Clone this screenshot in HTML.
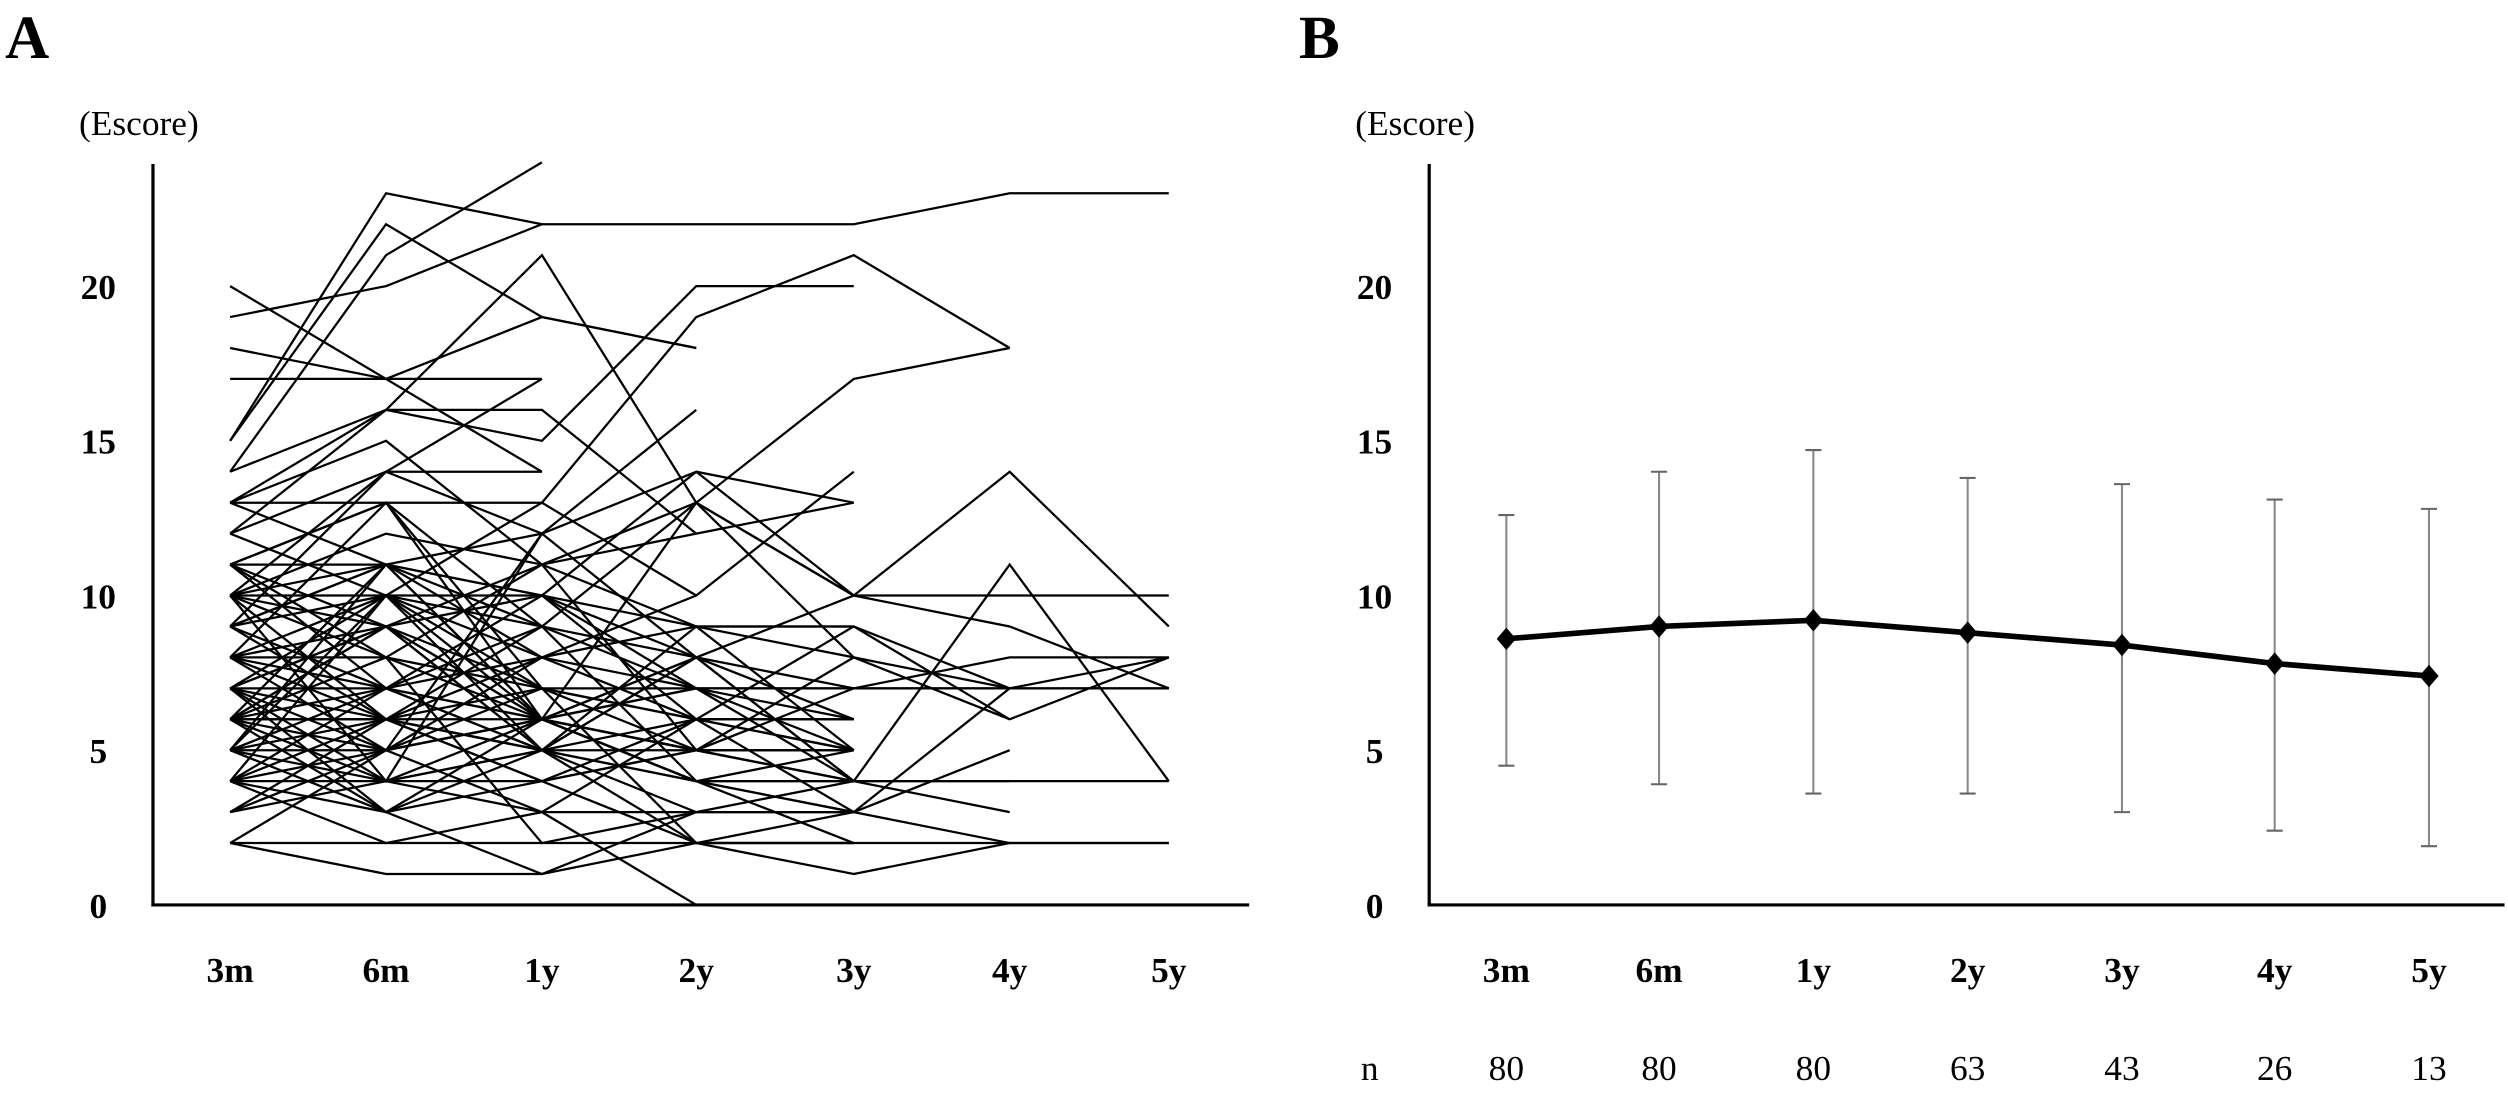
<!DOCTYPE html>
<html><head><meta charset="utf-8"><style>
html,body{margin:0;padding:0;background:#fff;}
svg{display:block;}
text{font-family:"Liberation Serif",serif;}
</style></head><body>
<svg id="chart" width="2508" height="1093" viewBox="0 0 1560 680" xmlns="http://www.w3.org/2000/svg">
<rect width="1560" height="680" fill="#fff"/>
<g id="A"></g>
<g id="B"></g>
</svg>
<script>
const categories = ["3m","6m","1y","2y","3y","4y","5y"];
const yTicks = [0,5,10,15,20];
const nCounts = [80,80,80,63,43,26,13];
const meanValues = [8.6,9.0,9.2,8.8,8.4,7.8,7.4];
const sdUpper = [12.6,14.0,14.7,13.8,13.6,13.1,12.8];
const sdLower = [4.5,3.9,3.6,3.6,3.0,2.4,1.9];
const subjects = [
[19,20,22,22,22,23,23],[15,23,22],[14,21,24],[20,17,14],[18,17,19,18],[17,17,17],
[15,22,19,18],[14,16,21,13,10,14,9],[13,16,15,20,20],[12,16,16,12,13],[10,14,14],
[11,13,13,19,21,18],[13,15,11,13,17,18],[11,11,12,14,10,10,10],[10,10,10,8,7,8,8],
[10,8,6,13,10,9,7],[9,11,10,7,7,7,7],[8,10,6,4,4,4,4],[7,6,9,4,4,11,4],[6,6,5,9,9,6,8],
[2,2,2,2,2,2,2],[2,1,1,2,1,2,2],[4,2,3,0],[6,3,1,3,4,3],[8,5,3,3,3],[5,4,3,6,6],
[7,9,5,5,8,6],[9,11,8,6,3,5],[4,6,8,10,14],[3,5,12,16],[5,7,10,14,13],[6,9,11,5,5],
[7,5,6,7,4],[8,6,4,5,7,7],[10,12,11,9,5],[11,9,5,4,3],[12,14,12,8,10],[5,10,7,2,3,7,8],
[4,7,9,13,8,7,7],[6,11,10,9,9,7],[9,7,6,8,4,4],[3,6,5,8,4],[7,10,13,10],[5,3,6,8],
[8,13,6],[10,4,12],[4,4,4,5],[6,8,2,3],[11,7,8],[13,13,9],[9,14,17],[6,4,5],
[7,9,10,6],[5,11,6,4],[4,10,5],[8,8,11,12],[2,5,7],[10,6,6],[11,13,7,7],[7,3,5,3,3,2],
[6,5,6,5,5],[5,6,4,6,5],[7,7,6,4,3],[4,5,6,5,4],[6,6,7,5,4],[9,6,5,6,6],[3,4,6,4,2],
[8,9,7,6,5],[10,9,6,5,4],[7,4,5,4,5],[6,7,5,8,6],[5,5,8,7,7],[11,8,7,6,9],[4,3,4,2,2],
[9,10,9,7,6],[12,10,8,9,8],[6,9,6,7,5],[8,7,5,2,2],[13,11,9,8],[10,11,6,5]
];
const NS="http://www.w3.org/2000/svg";
function mk(parent,tag,attrs,txt){const e=document.createElementNS(NS,tag);for(const k in attrs)e.setAttribute(k,attrs[k]);if(txt!==undefined)e.textContent=txt;parent.appendChild(e);return e;}
const y0=563, yPer=(563-178)/20;
function yS(v){return y0-v*yPer;}
const xA=[143,240,337,433,531,628,727];
const xB=[937,1032,1128,1224,1320,1415,1511];
function axes(g,ax,axEnd,xs,letter,lx,hasN){
  let t=mk(g,'text',{x:lx,y:36,'font-size':38,'font-weight':'bold'},letter);
  
  
  t=mk(g,'text',{x:ax-46,y:84,'font-size':22},'(Escore)');
  
  
  let l=mk(g,'line',{x1:ax,y1:102,x2:ax,y2:y0+1,stroke:'#000','stroke-width':2});
  
  
  l=mk(g,'line',{x1:ax-1,y1:y0,x2:axEnd,y2:y0,stroke:'#000','stroke-width':2});
  
  
  yTicks.forEach(v=>{const e=mk(g,'text',{x:ax-34,y:yS(v)+8,'font-size':22,'font-weight':'bold','text-anchor':'middle'},String(v));
    
    });
  categories.forEach((c,i)=>{const e=mk(g,'text',{x:xs[i],y:611,'font-size':22,'font-weight':'bold','text-anchor':'middle'},c);
    
    });
  if(hasN){
    let e=mk(g,'text',{x:ax-37,y:672,'font-size':22,'text-anchor':'middle'},'n');
    
    
    nCounts.forEach((n,i)=>{const e2=mk(g,'text',{x:xs[i],y:672,'font-size':22,'text-anchor':'middle'},String(n));
      
      });
  }
}
const gA=document.getElementById('A'), gB=document.getElementById('B');
axes(gA,95,777,xA,'A',3,false);
axes(gB,889,1558,xB,'B',808,true);
subjects.forEach(s=>{
  const pts=[];s.forEach((v,i)=>{if(v!==null&&v!==undefined)pts.push(xA[i]+','+yS(v));});
  const p=mk(gA,'polyline',{points:pts.join(' '),fill:'none',stroke:'#000','stroke-width':1.4});
  
  
});
meanValues.forEach((m,i)=>{
  const x=xB[i];
  let e=mk(gB,'line',{x1:x,y1:yS(sdUpper[i]),x2:x,y2:yS(sdLower[i]),stroke:'#888','stroke-width':1.3});
  
  
  mk(gB,'line',{x1:x-5,y1:yS(sdUpper[i]),x2:x+5,y2:yS(sdUpper[i]),stroke:'#666','stroke-width':1.3});
  mk(gB,'line',{x1:x-5,y1:yS(sdLower[i]),x2:x+5,y2:yS(sdLower[i]),stroke:'#666','stroke-width':1.3});
});
const mp=mk(gB,'polyline',{points:meanValues.map((m,i)=>xB[i]+','+yS(m)).join(' '),fill:'none',stroke:'#000','stroke-width':3.5});


meanValues.forEach((m,i)=>{
  const x=xB[i],y=yS(m);
  const d=mk(gB,'polygon',{points:`${x},${y-7} ${x+6},${y} ${x},${y+7} ${x-6},${y}`,fill:'#000'});
  
  
});
</script>
</body></html>
